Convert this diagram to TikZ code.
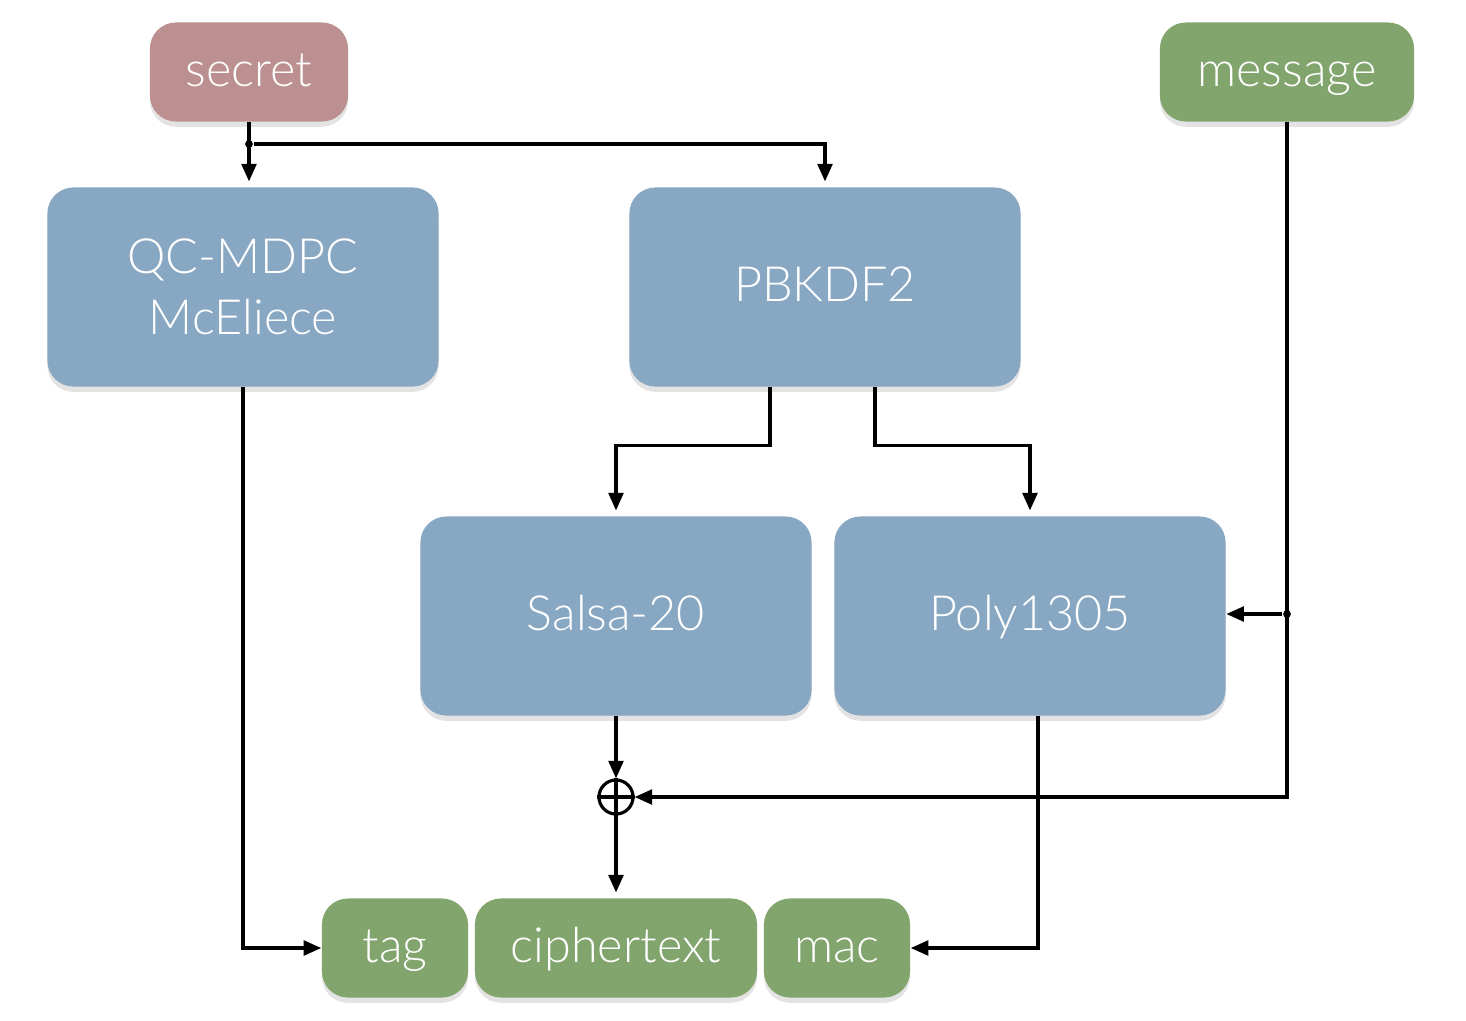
\documentclass[tikz,border=0pt]{standalone}
\usepackage{fontspec}
\setmainfont{Lato Light}
\usetikzlibrary{arrows.meta,shadows,positioning}
\definecolor{secretc}{HTML}{BC9090}
\definecolor{greenc}{HTML}{82A56E}
\definecolor{bluec}{HTML}{88A7C3}
\tikzset{
  box/.style={draw=none, rounded corners=0.26cm, text=white, align=center,
    font=\fontsize{13.8}{17.5}\selectfont, inner sep=0pt,
    drop shadow={opacity=0.22, shadow xshift=0pt, shadow yshift=-1.5pt}},
  oneline/.style={text height=0.84em, text depth=0pt},
  bigbox/.style={box, fill=bluec, minimum width=3.91cm, minimum height=1.99cm},
  iobox/.style={box, oneline, minimum height=0.99cm},
  conn/.style={line width=0.9pt, -{Triangle[length=5pt,width=4.2pt]}},
  jdot/.style={circle, fill=black, inner sep=0pt, minimum size=2.2pt},
}
\begin{document}
\begin{tikzpicture}[x=0.01cm,y=-0.01cm]
\useasboundingbox (0,0) rectangle (1466,1020);
\node[iobox, fill=secretc, minimum width=1.98cm] (secret) at (249,72) {secret};
\node[iobox, fill=greenc, minimum width=2.54cm] (message) at (1287,72) {message};
\node[bigbox] (qc) at (243,287) {QC-MDPC\\McEliece};
\node[bigbox, oneline] (pb) at (825,287) {PBKDF2};
\node[bigbox, oneline] (salsa) at (616,616) {Salsa-20};
\node[bigbox, oneline] (poly) at (1030,616) {Poly1305};
\node[iobox, fill=greenc, minimum width=1.46cm] (tag) at (395,948) {tag};
\node[iobox, fill=greenc, minimum width=2.82cm] (ct) at (616,948) {ciphertext};
\node[iobox, fill=greenc, minimum width=1.46cm] (mac) at (837,948) {mac};
\node[circle, draw, line width=0.9pt, minimum size=0.34cm, inner sep=0pt] (xor) at (616,797) {};
\draw[line width=0.9pt] (xor.north) -- (xor.south) (xor.west) -- (xor.east);
\node[jdot] (d1) at (249,144) {};
\node[jdot] (d2) at (1287,614) {};
% secret
\draw[conn] (secret.south) -- ([yshift=1.5pt]qc.north -| secret.south);
\draw[conn] (d1) -| ([yshift=1.5pt]pb.north);
% QC -> tag
\draw[conn] (qc.south) |- (tag.west);
% PBKDF2 -> salsa / poly
\draw[conn] ([xshift=-0.55cm]pb.south) -- ++(0,58) -| ([yshift=1.5pt]salsa.north);
\draw[conn] ([xshift=0.5cm]pb.south) -- ++(0,58) -| ([yshift=1.5pt]poly.north);
% message
\draw[conn] (message.south) |- (xor.east);
\draw[conn] (d2) -- (poly.east |- d2);
% salsa -> xor -> ciphertext
\draw[conn] (salsa.south) -- (xor.north);
\draw[conn] (xor.south) -- ([yshift=1.5pt]ct.north);
% poly -> mac
\draw[conn] ([xshift=0.08cm]poly.south) |- (mac.east);
\end{tikzpicture}
\end{document}
